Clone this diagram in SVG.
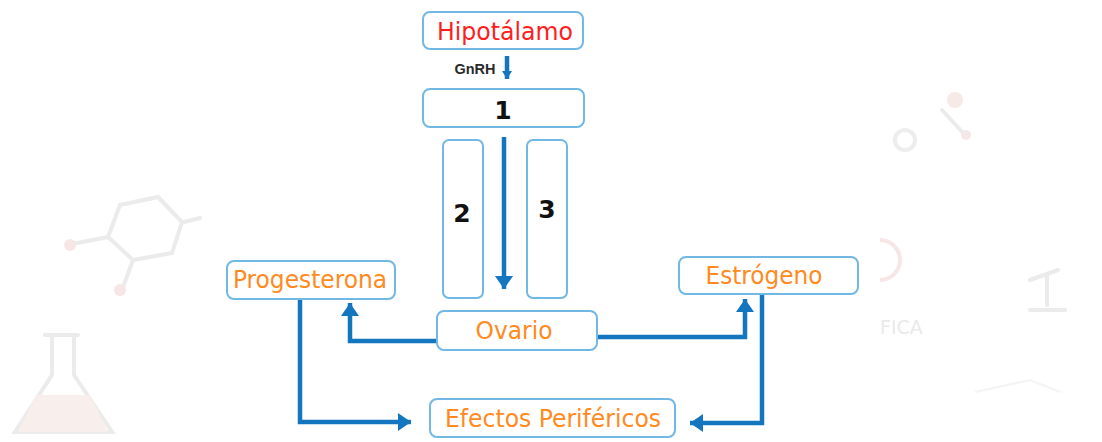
<svg xmlns="http://www.w3.org/2000/svg" width="1102" height="442" viewBox="0 0 1102 442">
  <defs>
    <style>
      .box { fill: #ffffff; stroke: #72b8e4; stroke-width: 2; }
      .lbl { font-family: "DejaVu Sans Condensed", "DejaVu Sans", Verdana, sans-serif; fill: #ff8a1e; text-anchor: middle; font-size: 24px; }
      .num { font-family: "DejaVu Sans", Verdana, sans-serif; font-weight: bold; fill: #111111; text-anchor: middle; font-size: 25px; }
      .wire { fill: none; stroke: #1576c0; stroke-width: 4.5; }
      .wm { fill: none; stroke: #dedede; stroke-width: 4; stroke-linecap: round; }
    </style>
    <!-- arrowheads sized in user units so every connector gets the same head -->
    <marker id="head" viewBox="0 0 13 18" refX="13" refY="9" markerWidth="13" markerHeight="18" orient="auto" markerUnits="userSpaceOnUse">
      <path d="M0,0 L13,9 L0,18 Z" fill="#1576c0"/>
    </marker>
    <marker id="headThin" viewBox="0 0 8 10" refX="8" refY="5" markerWidth="8" markerHeight="10" orient="auto" markerUnits="userSpaceOnUse">
      <path d="M0,0 L8,5 L0,10 Z" fill="#1576c0"/>
    </marker>
  </defs>

  <rect width="1102" height="442" fill="#ffffff"/>

  <!-- faint background artwork -->
  <g id="backdrop" opacity="0.6">
    <path class="wm" d="M120,205 L158,197 L182,222 L172,253 L133,260 L108,237 Z"/>
    <path class="wm" d="M184,222 L200,218"/>
    <path class="wm" d="M108,237 L72,244"/>
    <path class="wm" d="M133,260 L122,290"/>
    <circle cx="70" cy="245" r="6" fill="#f3d6d6"/>
    <circle cx="120" cy="290" r="6" fill="#f3d6d6"/>
    <path class="wm" d="M45,335 L78,335 M52,335 L52,375 L15,432 L112,432 L74,375 L74,335"/>
    <path d="M36,395 L90,395 L108,432 L18,432 Z" fill="#f4e4e0"/>
    <circle cx="955" cy="100" r="8" fill="#f3dcd6"/>
    <circle cx="905" cy="140" r="10" fill="none" stroke="#e2e2e2" stroke-width="4"/>
    <path class="wm" d="M942,110 L965,135"/>
    <circle cx="966" cy="135" r="5" fill="#f0dada"/>
    <path d="M880,240 A20,20 0 0 1 880,280" fill="none" stroke="#f3d6d6" stroke-width="4"/>
    <path class="wm" d="M1030,280 L1058,270 M1047,275 L1047,305 M1030,310 L1065,310"/>
    <text x="880" y="334" font-family="DejaVu Sans, sans-serif" font-size="19" fill="#dcdcdc">FICA</text>
    <path d="M975,392 L1030,380 L1060,392" fill="none" stroke="#eeeeee" stroke-width="2"/>
  </g>

  <!-- connectors -->
  <g id="connectors">
    <path class="wire" d="M507,56 L507,79" stroke-width="2.5" marker-end="url(#headThin)"/>
    <path class="wire" d="M504,137 L504,289" marker-end="url(#head)"/>
    <path class="wire" d="M437,341 L350,341 L350,303" marker-end="url(#head)"/>
    <path class="wire" d="M597,337 L745,337 L745,299" marker-end="url(#head)"/>
    <path class="wire" d="M300,299 L300,422 L411,422" marker-end="url(#head)"/>
    <path class="wire" d="M762,294 L762,423 L690,423" marker-end="url(#head)"/>
  </g>

  <g id="hipotalamo">
    <rect class="box" x="423" y="12" width="160" height="37" rx="7"/>
    <text x="505" y="40" font-family="DejaVu Sans Condensed, DejaVu Sans, Verdana, sans-serif" font-size="24" fill="#ff1e1e" text-anchor="middle" textLength="136" lengthAdjust="spacingAndGlyphs">Hipotálamo</text>
  </g>

  <g id="gnrh">
    <text x="475" y="74" font-family="Liberation Sans, Arial, sans-serif" font-size="14" font-weight="bold" fill="#2a2a2a" text-anchor="middle" textLength="41" lengthAdjust="spacingAndGlyphs">GnRH</text>
  </g>

  <g id="node1">
    <rect class="box" x="423" y="89" width="161" height="38" rx="7"/>
    <text class="num" x="503" y="119">1</text>
  </g>

  <g id="node2">
    <rect class="box" x="443" y="140" width="40" height="158" rx="6"/>
    <text class="num" x="462" y="222">2</text>
  </g>

  <g id="node3">
    <rect class="box" x="527" y="140" width="40" height="158" rx="6"/>
    <text class="num" x="547" y="218">3</text>
  </g>

  <g id="ovario">
    <rect class="box" x="437" y="311" width="160" height="39" rx="7"/>
    <text class="lbl" x="514" y="339" textLength="77" lengthAdjust="spacingAndGlyphs">Ovario</text>
  </g>

  <g id="progesterona">
    <rect class="box" x="227" y="261" width="168" height="38" rx="7"/>
    <text class="lbl" x="310" y="288" textLength="154" lengthAdjust="spacingAndGlyphs">Progesterona</text>
  </g>

  <g id="estrogeno">
    <rect class="box" x="679" y="257" width="179" height="37" rx="7"/>
    <text class="lbl" x="764" y="284" textLength="117" lengthAdjust="spacingAndGlyphs">Estrógeno</text>
  </g>

  <g id="efectos">
    <rect class="box" x="430" y="399" width="245" height="38" rx="7"/>
    <text class="lbl" x="553" y="427" textLength="216" lengthAdjust="spacingAndGlyphs">Efectos Periféricos</text>
  </g>
</svg>
